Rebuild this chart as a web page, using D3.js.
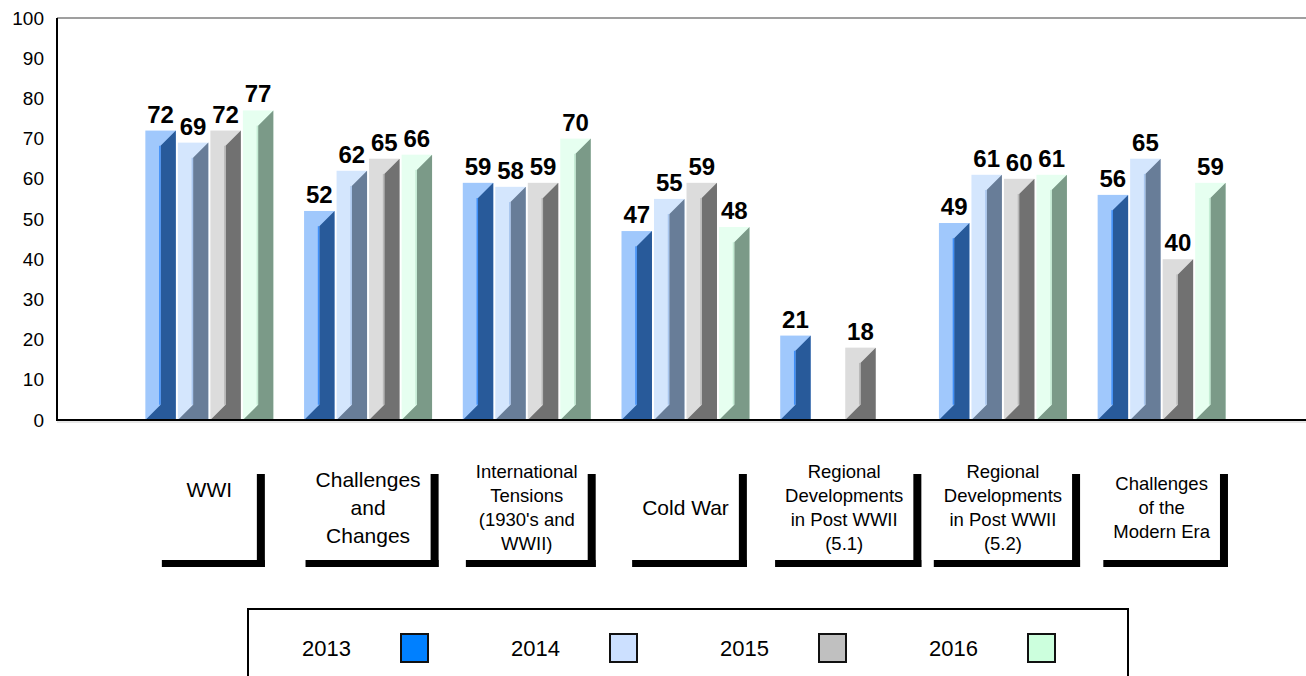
<!DOCTYPE html>
<html lang="en">
<head>
<meta charset="UTF-8">
<title>Scores by unit</title>
<script src="https://d3js.org/d3.v7.min.js"></script>
<style>
  body { margin: 0; background: #fff; }
  svg { display: block; font-family: "Liberation Sans", Arial, sans-serif; }
</style>
</head>
<body>
<div id="chart"></div>
<script>

const categories = [
  "WWI",
  "Challenges\nand\nChanges",
  "International\nTensions\n(1930's and\nWWII)",
  "Cold War",
  "Regional\nDevelopments\nin Post WWII\n(5.1)",
  "Regional\nDevelopments\nin Post WWII\n(5.2)",
  "Challenges\nof the\nModern Era"
];
const years = ["2013", "2014", "2015", "2016"];
const values2013 = [72, 52, 59, 47, 21, 49, 56];
const values2014 = [69, 62, 58, 55, null, 61, 65];
const values2015 = [72, 65, 59, 59, 18, 60, 40];
const values2016 = [77, 66, 70, 48, null, 61, 59];
const yTicks = [0, 10, 20, 30, 40, 50, 60, 70, 80, 90, 100];

const series = [values2013, values2014, values2015, values2016];

// front / shaded side / thin edge / legend key
const palette = {
  "2013": { light: "#a0c8fc", dark: "#285a9a", edge: "#3f8ff8", key: "#0080ff" },
  "2014": { light: "#d4e6fd", dark: "#687d98", edge: "#a9c6ee", key: "#cce0ff" },
  "2015": { light: "#dcdcdc", dark: "#717171", edge: "#b9b9b9", key: "#c0c0c0" },
  "2016": { light: "#e6fff0", dark: "#7b9a88", edge: "#c4ecd4", key: "#ccffdd" }
};

const width = 1306;
const height = 676;

const svg = d3.select('#chart')
  .append('svg')
  .attr('width', width)
  .attr('height', height);

const x = d3.scaleBand()
  .domain(categories)
  .range([130, 1241]);

const xi = d3.scaleBand()
  .domain(years)
  .range([-64, 64])
  .paddingInner(0.0625);

const y = d3.scaleLinear()
  .domain([0, 100])
  .range([420, 18]);

// frame lines
svg.append('line')
  .attr('x1', 57).attr('x2', width)
  .attr('y1', y(100)).attr('y2', y(100))
  .attr('stroke', '#7f7f7f').attr('stroke-width', 1.5);

svg.append('line')
  .attr('x1', 57).attr('x2', width)
  .attr('y1', y(0) + 2).attr('y2', y(0) + 2)
  .attr('stroke', '#d0d0d0').attr('stroke-width', 1);

// y axis labels
const yAxis = svg.append('g')
  .attr('transform', 'translate(57,0)')
  .call(d3.axisLeft(y).tickValues(yTicks).tickSize(0).tickPadding(13));
yAxis.select('.domain').remove();
yAxis.selectAll('text')
  .attr('font-size', 19)
  .attr('font-family', '"Liberation Sans", Arial, sans-serif')
  .attr('fill', '#000');

// bars
const cx = c => x(c) + x.step() / 2;

const barData = [];
categories.forEach((c, i) => {
  years.forEach((yr, j) => {
    const v = series[j][i];
    if (v == null) return;
    barData.push({ cat: c, year: yr, value: v });
  });
});

const bars = svg.append('g')
  .selectAll('g')
  .data(barData)
  .enter()
  .append('g');

bars.each(function(d) {
  const g = d3.select(this);
  const w = xi.bandwidth();
  const bx = cx(d.cat) + xi(d.year);
  const top = y(d.value);
  const base = y(0);
  const dep = w / 2;
  const col = palette[d.year];

  g.append('rect')
    .attr('x', bx).attr('y', top)
    .attr('width', w).attr('height', base - top)
    .attr('fill', col.light);

  g.append('path')
    .attr('d', `M${bx + dep},${top + dep} L${bx + w},${top} L${bx + w},${base} L${bx},${base} L${bx + dep},${base - dep} Z`)
    .attr('fill', col.dark);

  if (base - top - 2 * dep > 0) {
    g.append('rect')
      .attr('x', bx + dep - 1.5).attr('y', top + dep)
      .attr('width', 1.5).attr('height', base - top - 2 * dep)
      .attr('fill', col.edge);
  }
});

// value labels
svg.append('g')
  .selectAll('text')
  .data(barData)
  .enter()
  .append('text')
  .attr('x', d => cx(d.cat) + xi(d.year) + xi.bandwidth() / 2)
  .attr('y', d => y(d.value) - 8)
  .attr('text-anchor', 'middle')
  .attr('font-size', 24)
  .attr('font-weight', 'bold')
  .attr('fill', '#000')
  .text(d => d.value);

// axis lines on top
svg.append('line')
  .attr('x1', 57).attr('x2', 57)
  .attr('y1', y(100)).attr('y2', y(0) + 1)
  .attr('stroke', '#000').attr('stroke-width', 2);

svg.append('line')
  .attr('x1', 56).attr('x2', width)
  .attr('y1', y(0)).attr('y2', y(0))
  .attr('stroke', '#000').attr('stroke-width', 2);

// category labels in L-shaped boxes
const bigLabels = new Set(["WWI", "Challenges\nand\nChanges", "Cold War"]);

categories.forEach(c => {
  const lines = c.split('\n');
  const big = bigLabels.has(c);
  const fs = big ? 21 : 18.5;
  const lh = big ? 28 : 24;
  const midY = lines.length === 1 && c === "WWI" ? 490 : 508;
  const g = svg.append('g');

  const t = g.append('text')
    .attr('text-anchor', 'middle')
    .attr('font-size', fs)
    .attr('fill', '#000');

  lines.forEach((ln, k) => {
    t.append('tspan')
      .attr('x', cx(c))
      .attr('y', midY + (k - (lines.length - 1) / 2) * lh)
      .attr('dy', '0.35em')
      .text(ln);
  });

  let tw = 0;
  t.selectAll('tspan').each(function() {
    tw = Math.max(tw, this.getComputedTextLength());
  });

  const inner = Math.max(tw + 20, 95);
  const left = cx(c) - inner / 2;

  g.append('rect')
    .attr('x', left).attr('y', 560)
    .attr('width', inner + 8).attr('height', 7)
    .attr('fill', '#000');

  g.append('rect')
    .attr('x', left + inner).attr('y', 474)
    .attr('width', 8).attr('height', 93)
    .attr('fill', '#000');
});

// legend
svg.append('rect')
  .attr('x', 248).attr('y', 609)
  .attr('width', 880).attr('height', 120)
  .attr('fill', '#fff')
  .attr('stroke', '#000').attr('stroke-width', 2);

const lx = d3.scaleBand()
  .domain(years)
  .range([302, 1138]);

const legend = svg.append('g')
  .selectAll('g')
  .data(years)
  .enter()
  .append('g')
  .attr('transform', d => `translate(${lx(d)},648)`);

legend.append('text')
  .attr('x', 0).attr('y', 0)
  .attr('dy', '0.35em')
  .attr('font-size', 22)
  .attr('fill', '#000')
  .text(d => d);

legend.append('rect')
  .attr('x', 99).attr('y', -14)
  .attr('width', 27).attr('height', 28)
  .attr('fill', d => palette[d].key)
  .attr('stroke', '#111').attr('stroke-width', 2);

</script>
</body>
</html>
